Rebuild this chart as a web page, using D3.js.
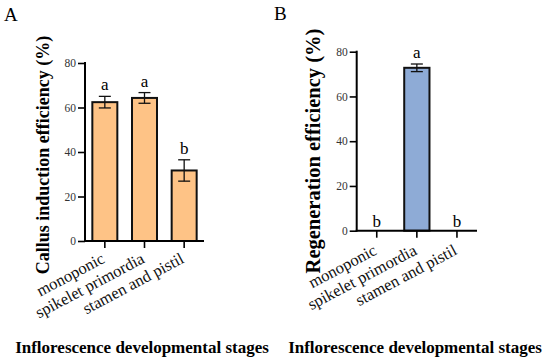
<!DOCTYPE html>
<html>
<head>
<meta charset="utf-8">
<script src="https://cdn.jsdelivr.net/npm/d3@7"></script>
<style>
  body { margin: 0; background: #fff; }
  svg, svg text { font-family: "Liberation Serif", "Times New Roman", "DejaVu Serif", serif; }
</style>
</head>
<body>
<svg width="550" height="364"></svg>
<script>
const stages = ["monoponic", "spikelet primordia", "stamen and pistil"];
const yTicks = [0, 20, 40, 60, 80];

const callusMean = [62.4, 64.3, 31.7];
const callusErr = [2.6, 2.4, 4.8];
const callusLetters = ["a", "a", "b"];

const regenMean = [0, 72.8, 0];
const regenErr = [0, 1.7, 0];
const regenLetters = ["b", "a", "b"];

const serif = "Liberation Serif, Times New Roman, serif";
const svg = d3.select("svg").attr("font-family", serif);

function panel(opts) {
  const g = svg.append("g");
  const y = d3.scaleLinear().domain([0, 80]).range([opts.y0, opts.y1]);
  const x = d3.scaleBand().domain(stages).range(opts.xr).paddingInner(0.37).paddingOuter(0.185);

  // y axis
  const ya = g.append("g")
    .attr("transform", `translate(${opts.ax},0)`)
    .call(d3.axisLeft(y).tickValues(yTicks).tickSize(7).tickPadding(2))
    .attr("font-family", serif);
  ya.select(".domain").attr("stroke", "#000").attr("stroke-width", 2)
    .attr("d", `M0,${opts.y0 + 1}V${opts.y1 - 1}`);
  ya.selectAll(".tick line").attr("stroke", "#000").attr("stroke-width", 1.6);
  ya.selectAll(".tick text").attr("font-size", 11.5).attr("fill", "#333");

  // bars
  const data = stages.map((s, i) => ({ s, m: opts.mean[i], e: opts.err[i], l: opts.letters[i] }));
  g.selectAll(".bar").data(data.filter(d => d.m > 0)).enter().append("rect")
    .attr("x", d => x(d.s))
    .attr("y", d => y(d.m))
    .attr("width", x.bandwidth())
    .attr("height", d => y(0) - y(d.m))
    .attr("fill", opts.fill)
    .attr("stroke", "#111")
    .attr("stroke-width", 2);

  // error bars
  const eb = g.selectAll(".err").data(data.filter(d => d.e > 0)).enter().append("g")
    .attr("transform", d => `translate(${x(d.s) + x.bandwidth() / 2},0)`);
  eb.append("line").attr("y1", d => y(d.m + d.e)).attr("y2", d => y(d.m - d.e))
    .attr("stroke", "#111").attr("stroke-width", 1.3);
  eb.append("line").attr("x1", -6).attr("x2", 6)
    .attr("y1", d => y(d.m + d.e)).attr("y2", d => y(d.m + d.e))
    .attr("stroke", "#111").attr("stroke-width", 1.3);
  eb.append("line").attr("x1", -6).attr("x2", 6)
    .attr("y1", d => y(d.m - d.e)).attr("y2", d => y(d.m - d.e))
    .attr("stroke", "#111").attr("stroke-width", 1.3);

  // significance letters
  g.selectAll(".sig").data(data).enter().append("text")
    .attr("x", d => x(d.s) + x.bandwidth() / 2)
    .attr("y", d => d.m > 0 ? y(d.m + d.e) - 6 : y(0) - 4)
    .attr("text-anchor", "middle")
    .attr("font-size", 17)
    .text(d => d.l);

  // x axis
  const xa = g.append("g")
    .attr("transform", `translate(0,${opts.y0})`)
    .call(d3.axisBottom(x).tickSize(7).tickSizeOuter(0))
    .attr("font-family", serif);
  xa.select(".domain").attr("stroke", "#000").attr("stroke-width", 2)
    .attr("d", `M${opts.ax - 1},0H${opts.axEnd}`);
  xa.selectAll(".tick line").attr("stroke", "#000").attr("stroke-width", 1.6);
  xa.selectAll(".tick text")
    .attr("font-size", 16.5).attr("fill", "#111")
    .attr("text-anchor", "end")
    .attr("y", 0).attr("dy", 0)
    .attr("transform", `translate(1,${opts.labDy}) rotate(-28)`);

  // axis titles
  g.append("text")
    .attr("transform", `translate(${opts.ytx},${opts.yty}) rotate(-90)`)
    .attr("text-anchor", "middle")
    .attr("font-size", opts.ytsize).attr("font-weight", "bold")
    .text(opts.ytitle);
  g.append("text")
    .attr("x", opts.xtx).attr("y", 353)
    .attr("text-anchor", "middle")
    .attr("font-size", 17).attr("font-weight", "bold")
    .text("Inflorescence developmental stages");

  g.append("text")
    .attr("x", opts.lx).attr("y", opts.ly)
    .attr("font-size", 19)
    .text(opts.label);
}

panel({
  mean: callusMean, err: callusErr, letters: callusLetters,
  fill: "#FEC386", y0: 241, y1: 63, ax: 85, axEnd: 204, xr: [85, 204],
  ytitle: "Callus induction efficiency (%)", ytx: 49, yty: 155, ytsize: 18,
  xtx: 142, label: "A", lx: 4, ly: 21, labDy: 21
});

panel({
  mean: regenMean, err: regenErr, letters: regenLetters,
  fill: "#8EABD6", y0: 230.7, y1: 51.7, ax: 356.7, axEnd: 477, xr: [356.7, 477],
  ytitle: "Regeneration efficiency (%)", ytx: 320, yty: 151, ytsize: 20.5,
  xtx: 415, label: "B", lx: 274, ly: 20, labDy: 23
});
</script>
</body>
</html>
